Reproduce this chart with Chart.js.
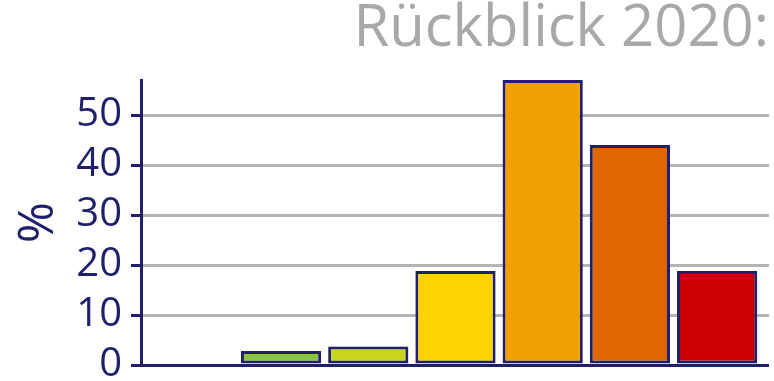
<!DOCTYPE html>
<html>
<head>
<meta charset="utf-8">
<script src="https://cdn.jsdelivr.net/npm/chart.js@4/dist/chart.umd.min.js"></script>
<style>
  html, body { margin: 0; padding: 0; background: #ffffff; }
  #wrap { width: 774px; height: 381px; }
</style>
</head>
<body>
<div id="wrap"><canvas id="chart"></canvas></div>
<script>
// Klassen (ohne Beschriftung im Original)
const categories = ['1', '2', '3', '4', '5', '6', '7'];
const values = [0, 2.8, 3.7, 18.8, 57, 44, 18.8];
const barColors = ['#86c732', '#86c732', '#c9d41c', '#fcd300', '#f0a000', '#e06600', '#cc0000'];
const yTicks = [0, 10, 20, 30, 40, 50];

const navy = '#1f1f6b';
const gridGrey = '#b4b4b4';

const ctx = document.getElementById('chart').getContext('2d');

new Chart(ctx, {
    type: 'bar',
    data: {
        labels: categories,
        datasets: [{
            data: values.map((v, i) => ({ x: i, y: v })),
            backgroundColor: barColors,
            borderColor: navy,
            borderWidth: 3,
            borderSkipped: false,
            barPercentage: 0.92,
            categoryPercentage: 1
        }]
    },
    options: {
        responsive: true,
        maintainAspectRatio: false,
        animation: false,
        layout: { autoPadding: false, padding: { left: 0, right: 5, top: 0, bottom: 16 } },
        scales: {
            x: {
                type: 'linear',
                display: false,
                offset: false,
                min: -0.606,
                max: 6.595
            },
            y: {
                min: 0,
                max: 57,
                afterFit: scale => {
                    scale.width = 141;
                    scale.paddingTop = 0;
                    scale.paddingBottom = 0;
                },
                afterBuildTicks: scale => {
                    scale.ticks = yTicks.map(v => ({ value: v }));
                },
                border: { color: navy, width: 3 },
                grid: {
                    color: c => c.tick && c.tick.value === 0 ? navy : gridGrey,
                    lineWidth: 3,
                    tickColor: navy,
                    tickLength: 10
                },
                ticks: {
                    color: navy,
                    padding: 9,
                    font: { family: 'Open Sans', size: 40 }
                },
                title: {
                    display: true,
                    text: '%',
                    color: navy,
                    padding: { top: 9, bottom: 0 },
                    font: { family: 'Open Sans', size: 50 }
                }
            }
        },
        plugins: {
            legend: { display: false },
            tooltip: { enabled: false },
            title: {
                display: true,
                text: 'Rückblick 2020:',
                align: 'end',
                color: '#a8a8a8',
                font: { family: 'Open Sans', size: 58, weight: 'normal', lineHeight: 1 },
                padding: { top: 0, bottom: 22 }
            }
        }
    }
});
</script>
</body>
</html>
